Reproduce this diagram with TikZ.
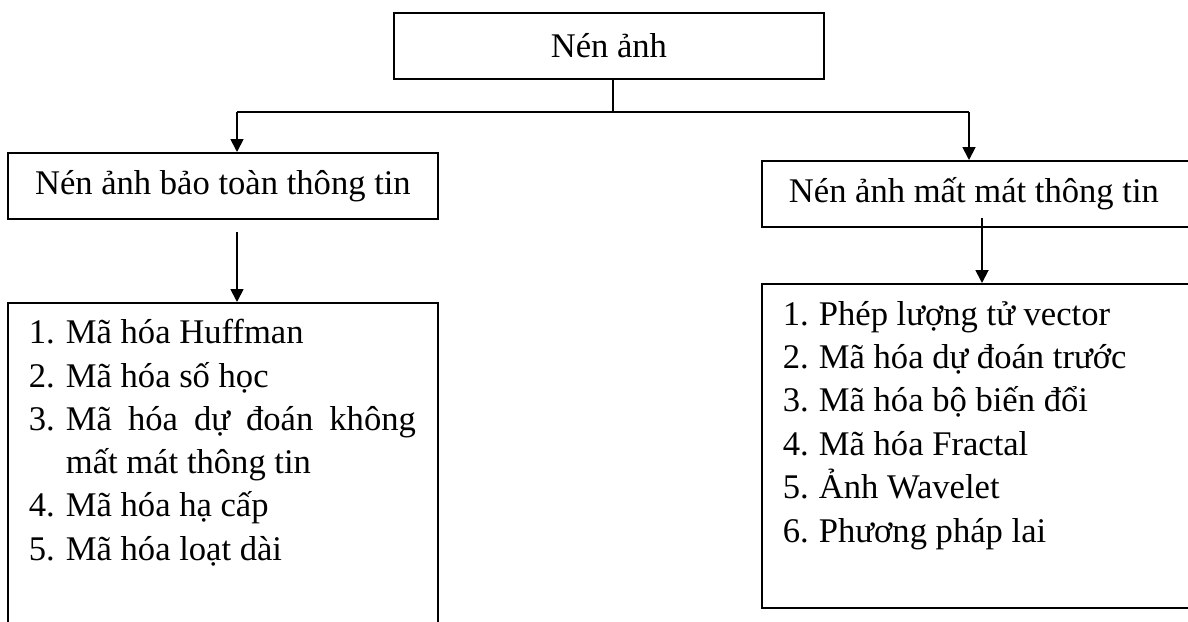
\documentclass[tikz,border=0pt]{standalone}
\usepackage{fontspec}
\setmainfont{Liberation Serif}
\usetikzlibrary{arrows.meta}
\begin{document}
\begin{tikzpicture}[x=1pt,y=-1pt, line width=1.8pt,
  box/.style={draw, rectangle, inner sep=0pt, anchor=north west},
  lbl/.style={font=\fontsize{34.6}{40}\selectfont, inner sep=0pt},
  item/.style={lbl, anchor=base west},
  arr/.style={-{Triangle[length=13pt,width=13pt]}}]
\useasboundingbox (0,0) rectangle (1188,621);
\fill[white] (0,0) rectangle (1188,621);
% boxes
\node[box, lbl, minimum width=430pt, minimum height=66pt] (top) at (393,12) {Nén ảnh};
\node[box, lbl, minimum width=430pt, minimum height=66pt] (lossless) at (7,152) {Nén ảnh bảo toàn thông tin};
\node[box, minimum width=440pt, minimum height=66pt] (lossy) at (761,160) {};
\node[item] (lossyt) at (788,202) {Nén ảnh mất mát thông tin};
\node[box, minimum width=430pt, minimum height=340pt] (llist) at (7,302) {};
\node[box, minimum width=440pt, minimum height=324pt] (rlist) at (761,283) {};
% left list
\node[item] (l1) at (28,343) {\makebox[37pt][l]{1.}Mã hóa Huffman};
\node[item] (l2) at (28,387) {\makebox[37pt][l]{2.}Mã hóa số học};
\node[item] (l3) at (28,430) {\makebox[37pt][l]{3.}\makebox[350pt][s]{Mã hóa dự đoán không}};
\node[item] (l3b) at (65,473) {mất mát thông tin};
\node[item] (l4) at (28,516) {\makebox[37pt][l]{4.}Mã hóa hạ cấp};
\node[item] (l5) at (28,560) {\makebox[37pt][l]{5.}Mã hóa loạt dài};
% right list
\node[item] (r1) at (782,325) {\makebox[36pt][l]{1.}Phép lượng tử vector};
\node[item] (r2) at (782,368) {\makebox[36pt][l]{2.}Mã hóa dự đoán trước};
\node[item] (r3) at (782,411) {\makebox[36pt][l]{3.}Mã hóa bộ biến đổi};
\node[item] (r4) at (782,455) {\makebox[36pt][l]{4.}Mã hóa Fractal};
\node[item] (r5) at (782,498) {\makebox[36pt][l]{5.}Ảnh Wavelet};
\node[item] (r6) at (782,542) {\makebox[36pt][l]{6.}Phương pháp lai};
% connectors
\coordinate (j) at (613,112);
\coordinate (jl) at (237,112);
\coordinate (jr) at (969,112);
\coordinate (la) at (237,232);
\coordinate (ra) at (982,218);
\draw (top.south -| j) -- (j);
\draw (jl) -- (jr);
\draw[arr] (jl) -- (lossless.north -| jl);
\draw[arr] (jr) -- (lossy.north -| jr);
\draw[arr] (la) -- (llist.north -| la);
\draw[arr] (ra) -- (rlist.north -| ra);
\end{tikzpicture}
\end{document}
